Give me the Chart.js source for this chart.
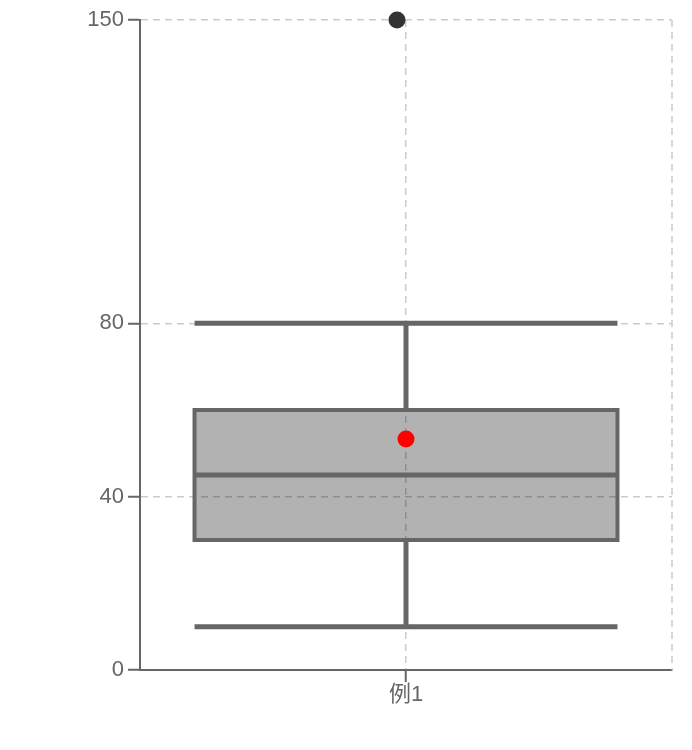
<!DOCTYPE html>
<html>
<head>
<meta charset="utf-8">
<script src="https://cdn.jsdelivr.net/npm/chart.js@4.4.1/dist/chart.umd.min.js"></script>
<style>
  html, body { margin: 0; padding: 0; background: #fff; }
  #wrap { width: 692px; height: 750px; }
</style>
</head>
<body>
<div id="wrap"><canvas id="boxChart" width="692" height="750"></canvas></div>
<script>
// data
const categories = ["例1"];
const whiskerLow = [10];
const quartile1 = [30];
const medians = [45];
const quartile3 = [60];
const whiskerHigh = [80];
const means = [53.3];
const outliers = [[150]];
const yTicks = [0, 40, 80, 150];

const FONT = '"Liberation Sans", Arial, "Noto Sans CJK SC", sans-serif';
const LINE_COLOR = "#666";
const GRID_COLOR = "#cccccc";
const GRID_DASH = [7, 5];

// whiskers, median, mean and outliers, placed with the chart's own scales
const boxExtras = {
    id: "boxExtras",
    beforeDatasetsDraw(chart) {
        // dashed frame on the right edge
        let { ctx, chartArea } = chart;
        ctx.save();
        ctx.strokeStyle = GRID_COLOR;
        ctx.lineWidth = 1.5;
        ctx.setLineDash(GRID_DASH);
        ctx.beginPath();
        ctx.moveTo(chartArea.right, chartArea.top);
        ctx.lineTo(chartArea.right, chartArea.bottom);
        ctx.stroke();
        ctx.restore();
    },
    afterDatasetsDraw(chart) {
        let ctx = chart.ctx;
        let xs = chart.scales.x;
        let ys = chart.scales.y;
        let bars = chart.getDatasetMeta(0).data;

        categories.forEach((cat, i) => {
            let cx = xs.getPixelForValue(i);
            let half = bars[i].width / 2;
            let yLo = ys.getPixelForValue(whiskerLow[i]);
            let yQ1 = ys.getPixelForValue(quartile1[i]);
            let yMed = ys.getPixelForValue(medians[i]);
            let yQ3 = ys.getPixelForValue(quartile3[i]);
            let yHi = ys.getPixelForValue(whiskerHigh[i]);

            ctx.save();
            ctx.strokeStyle = LINE_COLOR;
            ctx.lineCap = "butt";

            // whisker stems + caps
            ctx.lineWidth = 5;
            ctx.beginPath();
            ctx.moveTo(cx, yQ3); ctx.lineTo(cx, yHi);
            ctx.moveTo(cx, yQ1); ctx.lineTo(cx, yLo);
            ctx.moveTo(cx - half, yHi); ctx.lineTo(cx + half, yHi);
            ctx.moveTo(cx - half, yLo); ctx.lineTo(cx + half, yLo);
            ctx.stroke();

            // box outline
            ctx.lineWidth = 4;
            ctx.strokeRect(cx - half, yQ3, half * 2, yQ1 - yQ3);

            // median
            ctx.lineWidth = 5;
            ctx.beginPath();
            ctx.moveTo(cx - half, yMed); ctx.lineTo(cx + half, yMed);
            ctx.stroke();

            // mean
            ctx.fillStyle = "#ff0000";
            ctx.beginPath();
            ctx.arc(cx, ys.getPixelForValue(means[i]), 8.5, 0, Math.PI * 2);
            ctx.fill();

            // outliers (slightly jittered left)
            ctx.fillStyle = "#333333";
            outliers[i].forEach(v => {
                ctx.beginPath();
                ctx.arc(cx - 9, ys.getPixelForValue(v), 8.5, 0, Math.PI * 2);
                ctx.fill();
            });
            ctx.restore();
        });
    }
};

new Chart(document.getElementById("boxChart").getContext("2d"), {
    type: "bar",
    data: {
        labels: categories,
        datasets: [{
            label: "box",
            data: categories.map((c, i) => [quartile1[i], quartile3[i]]),
            backgroundColor: "rgba(0,0,0,0.3)",
            borderWidth: 0,
            barPercentage: 0.795,
            categoryPercentage: 1.0,
        }]
    },
    options: {
        responsive: false,
        animation: false,
        layout: { padding: { top: 20, right: 20, bottom: 0, left: 0 } },
        plugins: { legend: { display: false }, tooltip: { enabled: false } },
        scales: {
            x: {
                offset: true,
                grid: {
                    offset: false,
                    color: GRID_COLOR,
                    lineWidth: 1.5,
                    tickLength: 12,
                    tickColor: LINE_COLOR,
                    tickWidth: 2,
                },
                border: { display: true, color: LINE_COLOR, width: 2, dash: GRID_DASH },
                ticks: { color: "#666", font: { family: FONT, size: 22 }, padding: 0, maxRotation: 0 },
                afterFit: (scale) => { scale.height = 80; }
            },
            y: {
                min: 0,
                max: 150,
                afterBuildTicks: (scale) => { scale.ticks = yTicks.map(v => ({ value: v })); },
                grid: {
                    color: GRID_COLOR,
                    lineWidth: 1.5,
                    tickLength: 12,
                    tickColor: LINE_COLOR,
                    tickWidth: 2,
                },
                border: { display: true, color: LINE_COLOR, width: 2, dash: GRID_DASH },
                ticks: { color: "#666", font: { family: FONT, size: 22 }, padding: 4 },
                afterFit: (scale) => { scale.width = 140; }
            }
        }
    },
    plugins: [boxExtras]
});
</script>
</body>
</html>
